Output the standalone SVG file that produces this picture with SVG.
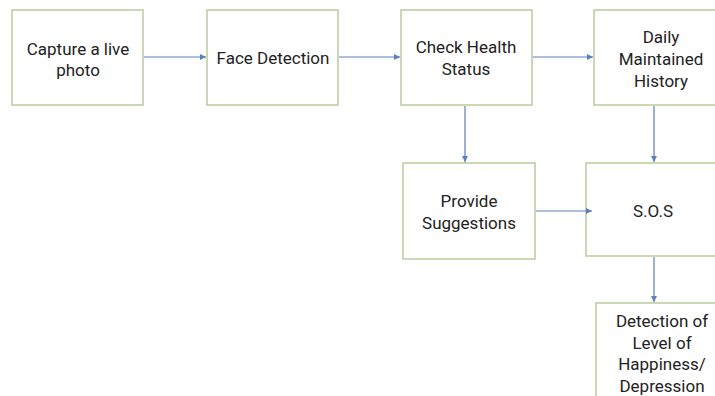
<svg xmlns="http://www.w3.org/2000/svg" width="715" height="396" viewBox="0 0 715 396">
<style>
.box{fill:#fff;stroke:#b9cc9c;stroke-width:1.5}
.t{font-family:Roboto,"Liberation Sans",sans-serif;font-size:17px;fill:#222;text-anchor:middle}
.c{stroke:#5b80b8;stroke-width:1.2;fill:none;marker-end:url(#ah)}
</style>
<defs>
<marker id="ah" markerWidth="8" markerHeight="8" refX="6" refY="3" orient="auto" markerUnits="userSpaceOnUse">
<path d="M0,0 L6,3 L0,6 Z" fill="#5b80b8"/>
</marker>
</defs>
<rect width="715" height="396" fill="#fff"/>
<g id="capture">
<rect class="box" x="12" y="10" width="131" height="95"/>
<text class="t" x="78" y="55">Capture a live</text>
<text class="t" x="78" y="76">photo</text>
</g>
<g id="face">
<rect class="box" x="207" y="10" width="131" height="95"/>
<text class="t" x="273" y="64">Face Detection</text>
</g>
<g id="health">
<rect class="box" x="401" y="10" width="131" height="95"/>
<text class="t" x="466" y="53">Check Health</text>
<text class="t" x="466" y="75">Status</text>
</g>
<g id="history">
<rect class="box" x="594" y="10" width="134" height="95"/>
<text class="t" x="661" y="43">Daily</text>
<text class="t" x="661" y="65">Maintained</text>
<text class="t" x="661" y="87">History</text>
</g>
<g id="suggestions">
<rect class="box" x="403" y="163" width="132" height="96"/>
<text class="t" x="469" y="207">Provide</text>
<text class="t" x="469" y="229">Suggestions</text>
</g>
<g id="sos">
<rect class="box" x="586" y="163" width="134" height="93"/>
<text class="t" x="653" y="217">S.O.S</text>
</g>
<g id="detection">
<rect class="box" x="596" y="303" width="132" height="110"/>
<text class="t" x="662" y="327">Detection of</text>
<text class="t" x="662" y="348.5">Level of</text>
<text class="t" x="662" y="370">Happiness/</text>
<text class="t" x="662" y="391.5">Depression</text>
</g>
<g id="connectors">
<line class="c" x1="144" y1="57" x2="206" y2="57"/>
<line class="c" x1="339" y1="57" x2="400" y2="57"/>
<line class="c" x1="533" y1="57" x2="593" y2="57"/>
<line class="c" x1="465" y1="106" x2="465" y2="162"/>
<line class="c" x1="654" y1="106" x2="654" y2="162"/>
<line class="c" x1="536" y1="211" x2="592" y2="211"/>
<line class="c" x1="654" y1="257" x2="654" y2="302"/>
</g>
</svg>
